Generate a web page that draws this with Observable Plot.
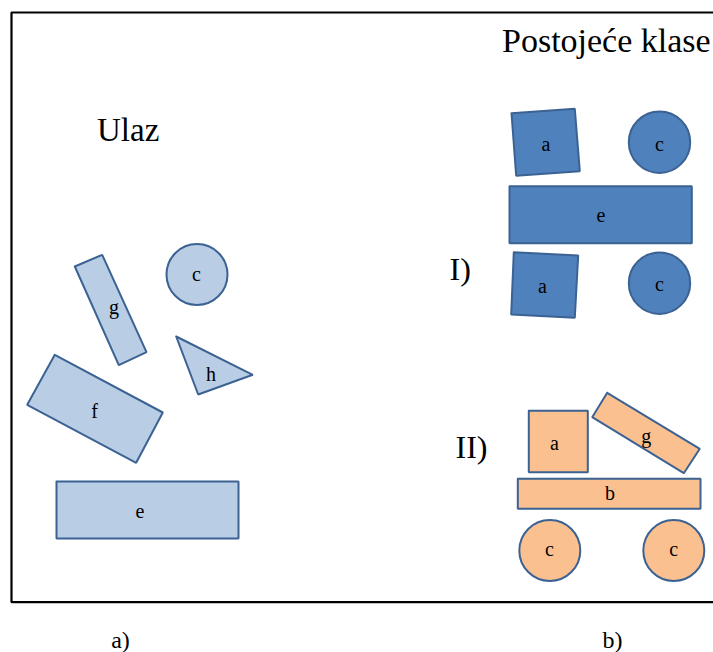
<!DOCTYPE html>
<html>
<head>
<meta charset="utf-8">
<script src="https://cdn.jsdelivr.net/npm/d3@7"></script>
<script src="https://cdn.jsdelivr.net/npm/@observablehq/plot@0.6"></script>
<style>
  html, body { margin: 0; padding: 0; background: #ffffff; }
  #chart svg { display: block; }
</style>
</head>
<body>
<div id="chart"></div>
<script>
// ---- Data (diagram coordinates, in image units) ----
// a) Ulaz (input shapes)
const inputPolygons = [
  {id: "g", pts: [[74.3, 266], [101.7, 254.3], [146, 351.7], [118.3, 364.7]]},
  {id: "h", pts: [[175.7, 336], [252.3, 374.3], [197.7, 394]]},
  {id: "f", pts: [[54.3, 354.3], [162.3, 412], [135.7, 462.3], [26.7, 404.3]]},
  {id: "e", pts: [[56, 481], [238, 481], [238, 538], [56, 538]]}
];
const inputCircles = [{id: "c", x: 196.5, y: 274, r: 30.5}];
const inputLabels = [
  {t: "c", x: 196, y: 280}, {t: "g", x: 113.5, y: 313}, {t: "h", x: 210.5, y: 380},
  {t: "f", x: 94, y: 417}, {t: "e", x: 139.5, y: 517}
];

// b) I) class
const class1Polygons = [
  {id: "a1", pts: [[511, 112.7], [574.3, 108.3], [579.3, 170.7], [515.7, 175.3]]},
  {id: "e1", pts: [[509, 185.7], [691.3, 185.7], [691.3, 242.7], [509, 242.7]]},
  {id: "a2", pts: [[513.3, 251.7], [577.7, 255], [574.3, 317.3], [510.7, 314]]}
];
const class1Circles = [{id: "c1", x: 659, y: 141.7, r: 30.7}, {id: "c2", x: 659, y: 282.7, r: 30.7}];
const class1Labels = [
  {t: "a", x: 545.5, y: 150.5}, {t: "c", x: 659, y: 150.5}, {t: "e", x: 600.5, y: 221.5},
  {t: "a", x: 542, y: 292.5}, {t: "c", x: 659, y: 290}
];

// b) II) class
const class2Polygons = [
  {id: "a", pts: [[528.3, 410.3], [587.3, 410.3], [587.3, 471.7], [528.3, 471.7]]},
  {id: "g", pts: [[606.7, 392.3], [699.3, 448.3], [683.3, 472.7], [591.7, 416.7]]},
  {id: "b", pts: [[517.3, 478.3], [700, 478.3], [700, 508.3], [517.3, 508.3]]}
];
const class2Circles = [{id: "c1", x: 549.3, y: 550, r: 30.5}, {id: "c2", x: 673.3, y: 550, r: 30.5}];
const class2Labels = [
  {t: "a", x: 554, y: 449}, {t: "g", x: 645.8, y: 442.7}, {t: "b", x: 609.5, y: 499.3},
  {t: "c", x: 549, y: 555.7}, {t: "c", x: 673.2, y: 555.7}
];

// Headings
const headings = [
  {t: "Ulaz", x: 96.5, y: 140, size: 33},
  {t: "Postojeće klase", x: 501.5, y: 51, size: 34},
  {t: "I)", x: 449, y: 279, size: 32},
  {t: "II)", x: 455, y: 457, size: 32},
  {t: "a)", x: 110.7, y: 647, size: 24},
  {t: "b)", x: 602, y: 647, size: 24}
];

// Frame (open on the right edge)
const framePts = [[730, 12], [11, 12], [11, 601.7], [730, 601.7]];

// ---- helpers ----
function flatten(polys) {
  const out = [];
  for (const p of polys) {
    for (const [x, y] of p.pts) out.push({id: p.id, x, y});
    out.push({id: p.id, x: p.pts[0][0], y: p.pts[0][1]}); // close
  }
  return out;
}

const OUTLINE = "#3B6293";
const LIGHT = "#B9CDE5";
const DARK = "#4F81BD";
const ORANGE = "#FAC090";
const SERIF = "Liberation Serif, DejaVu Serif, serif";

function polyMark(polys, fill) {
  return Plot.line(flatten(polys), {
    x: "x", y: "y", z: "id", fill, stroke: OUTLINE, strokeWidth: 2,
    strokeLinejoin: "miter", curve: "linear"
  });
}
function circleMark(circles, fill) {
  return Plot.dot(circles, {x: "x", y: "y", r: "r", fill, stroke: OUTLINE, strokeWidth: 2});
}
function labelMark(labels) {
  return Plot.text(labels, {
    x: "x", y: "y", text: "t", fontSize: 20, fontFamily: SERIF,
    fill: "#000", textAnchor: "middle", lineAnchor: "bottom"
  });
}

const chart = Plot.plot({
  width: 713,
  height: 652,
  margin: 0,
  x: {domain: [0, 713], range: [0, 713], axis: null},
  y: {domain: [0, 652], range: [0, 652], axis: null},
  r: {type: "identity"},
  style: {background: "#fff"},
  marks: [
    Plot.line(framePts.map(([x, y]) => ({x, y})), {
      x: "x", y: "y", stroke: "#000", strokeWidth: 2.2, strokeLinejoin: "miter", strokeLinecap: "butt"
    }),
    polyMark(inputPolygons, LIGHT),
    circleMark(inputCircles, LIGHT),
    labelMark(inputLabels),
    polyMark(class1Polygons, DARK),
    circleMark(class1Circles, DARK),
    labelMark(class1Labels),
    polyMark(class2Polygons, ORANGE),
    circleMark(class2Circles, ORANGE),
    labelMark(class2Labels),
    Plot.text(headings, {
      x: "x", y: "y", text: "t", fontSize: d => d.size, fontFamily: SERIF,
      fill: "#000", textAnchor: "start", lineAnchor: "bottom"
    })
  ]
});
document.getElementById("chart").appendChild(chart);
</script>
</body>
</html>
